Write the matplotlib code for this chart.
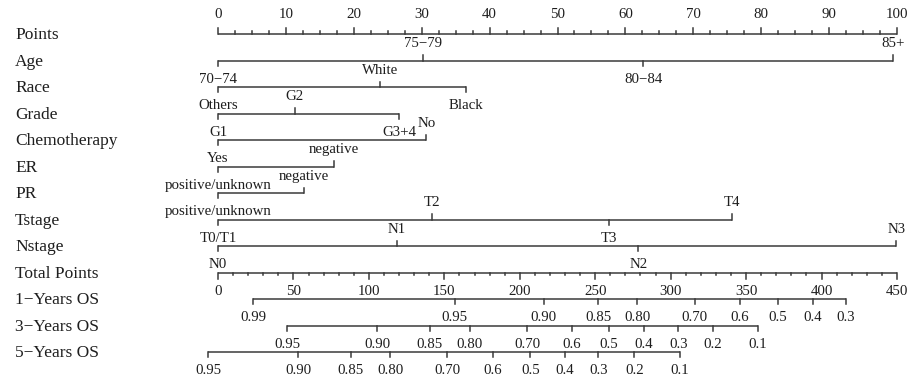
import matplotlib
matplotlib.use("Agg")
import matplotlib.pyplot as plt

# nomogram data
row_names = ["Points", "Age", "Race", "Grade", "Chemotherapy", "ER", "PR",
             "Tstage", "Nstage", "Total Points", "1\u2212Years OS",
             "3\u2212Years OS", "5\u2212Years OS"]

age_levels = ["70\u221274", "75\u221279", "80\u221284", "85+"]
age_pts = [0, 30.2, 62.6, 99.4]
race_levels = ["Others", "White", "Black"]
race_pts = [0, 23.9, 36.5]
grade_levels = ["G1", "G2", "G3+4"]
grade_pts = [0, 11.3, 26.7]
chemo_levels = ["Yes", "No"]
chemo_pts = [0, 30.7]
er_levels = ["positive/unknown", "negative"]
er_pts = [0, 17.1]
pr_levels = ["positive/unknown", "negative"]
pr_pts = [0, 12.7]
tstage_levels = ["T0/T1", "T2", "T3", "T4"]
tstage_pts = [0, 31.5, 57.6, 75.7]
nstage_levels = ["N0", "N1", "N2", "N3"]
nstage_pts = [0, 26.3, 61.9, 99.9]

points_ticks = list(range(0, 101, 10))
total_ticks = list(range(0, 451, 50))
total_max = 450

os1_labels = ["0.99", "0.95", "0.90", "0.85", "0.80", "0.70", "0.6", "0.5", "0.4", "0.3"]
os1_total = [23.2, 157, 216, 252, 278, 316, 346, 371, 394, 416]
os3_labels = ["0.95", "0.90", "0.85", "0.80", "0.70", "0.6", "0.5", "0.4", "0.3", "0.2", "0.1"]
os3_total = [45.7, 105.4, 140.5, 167, 204.8, 234.6, 259, 282, 305, 328, 358]
os5_labels = ["0.95", "0.90", "0.85", "0.80", "0.70", "0.6", "0.5", "0.4", "0.3", "0.2", "0.1"]
os5_total = [-6.6, 53, 88, 114, 152, 182, 207, 230, 252, 276, 306]

plt.rcParams['font.family'] = ['Liberation Serif', 'DejaVu Serif']
LC = '#3a3a3a'
TC = '#1e1e1e'
LW = 1.1
FS_ROW = 12.5
FS_TICK = 10.7

fig = plt.figure(figsize=(9.13, 3.78), dpi=100)
ax = fig.add_axes([0, 0, 1, 1])
# 0..100 points spans pixels 218..897, rows are 26.5 px apart starting at 34 px
ppx = 6.79
ax.set_xlim(-218 / ppx, (913 - 218) / ppx)
ax.set_ylim((378 - 34) / 26.5, -34 / 26.5)
ax.axis('off')

TICK = 0.19
UP_OFF = 0.63
DN_OFF = 0.71


def to_pts(tp):
    return tp * 100.0 / total_max


def draw_var(row, pts, labels):
    ax.plot([min(pts), max(pts)], [row, row], color=LC, lw=LW, solid_capstyle='butt')
    for i, (p, lab) in enumerate(zip(pts, labels)):
        if i % 2 == 0:
            ax.plot([p, p], [row, row + TICK], color=LC, lw=LW)
            ax.text(p, row + DN_OFF, lab, ha='center', va='center', fontsize=FS_TICK, color=TC)
        else:
            ax.plot([p, p], [row, row - TICK], color=LC, lw=LW)
            ax.text(p, row - UP_OFF, lab, ha='center', va='center', fontsize=FS_TICK, color=TC)


def draw_os(row, totals, labels):
    xs = [to_pts(t) for t in totals]
    ax.plot([min(xs), max(xs)], [row, row], color=LC, lw=LW, solid_capstyle='butt')
    for x, lab in zip(xs, labels):
        ax.plot([x, x], [row, row + TICK], color=LC, lw=LW)
        ax.text(x, row + DN_OFF, lab, ha='center', va='center', fontsize=FS_TICK, color=TC)


# row names
for r, name in enumerate(row_names):
    ax.text((15 - 218) / ppx, r + 0.05, name, ha='left', va='center', fontsize=FS_ROW, color=TC)

# Points scale
ax.plot([0, 100], [0, 0], color=LC, lw=LW, solid_capstyle='butt')
for k in range(41):
    v = k * 2.5
    ln = 0.23 if k % 4 == 0 else 0.11
    ax.plot([v, v], [0, -ln], color=LC, lw=LW)
for v in points_ticks:
    ax.text(v, -0.75, str(v), ha='center', va='center', fontsize=FS_TICK, color=TC)

draw_var(1, age_pts, age_levels)
draw_var(2, race_pts, race_levels)
draw_var(3, grade_pts, grade_levels)
draw_var(4, chemo_pts, chemo_levels)
draw_var(5, er_pts, er_levels)
draw_var(6, pr_pts, pr_levels)
draw_var(7, tstage_pts, tstage_levels)
draw_var(8, nstage_pts, nstage_levels)

# Total points scale
ax.plot([0, 100], [9, 9], color=LC, lw=LW, solid_capstyle='butt')
for t in range(0, total_max + 1, 10):
    ln = 0.23 if t % 50 == 0 else 0.11
    ax.plot([to_pts(t)] * 2, [9, 9 + ln], color=LC, lw=LW)
for t in total_ticks:
    ax.text(to_pts(t), 9 + DN_OFF, str(t), ha='center', va='center', fontsize=FS_TICK, color=TC)

draw_os(10, os1_total, os1_labels)
draw_os(11, os3_total, os3_labels)
draw_os(12, os5_total, os5_labels)

fig.savefig("out.png", dpi=100)
